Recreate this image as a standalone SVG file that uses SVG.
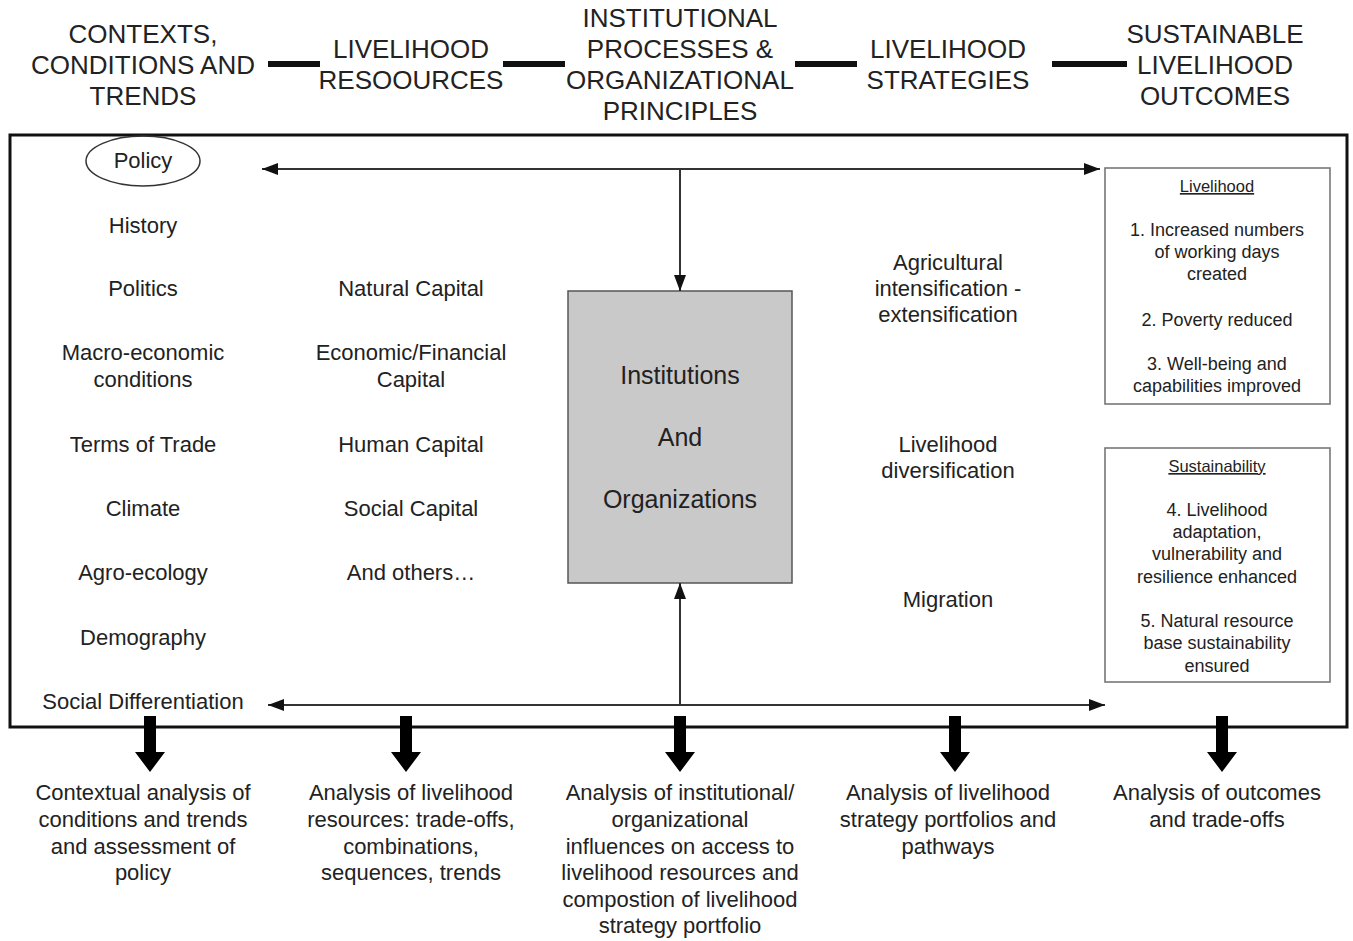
<svg xmlns="http://www.w3.org/2000/svg" width="1353" height="941" viewBox="0 0 1353 941">
  <style>
    text { font-family: "Liberation Sans", Arial, sans-serif; fill: #222; text-anchor: middle; }
    .hdr { font-size: 26px; }
    .body { font-size: 22px; }
    .big { font-size: 25px; }
    .small { font-size: 18px; }
    .ttl { font-size: 16.5px; text-decoration: underline; }
    .bar { stroke: #111; stroke-width: 6; }
    .flow { stroke: #333; stroke-width: 2; fill: none; }
    .outbox { fill: #fff; stroke: #777; stroke-width: 1.6; }
    .down { fill: #000; }
  </style>
  <defs>
    <marker id="tip" viewBox="0 0 16 12" refX="16" refY="6" markerWidth="16" markerHeight="12" markerUnits="userSpaceOnUse" orient="auto-start-reverse">
      <path d="M0,0 L16,6 L0,12 Z" fill="#111"/>
    </marker>
  </defs>
  <rect width="1353" height="941" fill="#fff"/>

  <!-- header row -->
  <g id="header">
    <g id="h-contexts">
      <text class="hdr" x="143" y="43">CONTEXTS,</text>
      <text class="hdr" x="143" y="74">CONDITIONS AND</text>
      <text class="hdr" x="143" y="105">TRENDS</text>
    </g>
    <g id="h-resources">
      <text class="hdr" x="411" y="58">LIVELIHOOD</text>
      <text class="hdr" x="411" y="89">RESOOURCES</text>
    </g>
    <g id="h-institutional">
      <text class="hdr" x="680" y="27">INSTITUTIONAL</text>
      <text class="hdr" x="680" y="58">PROCESSES &amp;</text>
      <text class="hdr" x="680" y="89">ORGANIZATIONAL</text>
      <text class="hdr" x="680" y="120">PRINCIPLES</text>
    </g>
    <g id="h-strategies">
      <text class="hdr" x="948" y="58">LIVELIHOOD</text>
      <text class="hdr" x="948" y="89">STRATEGIES</text>
    </g>
    <g id="h-outcomes">
      <text class="hdr" x="1215" y="43">SUSTAINABLE</text>
      <text class="hdr" x="1215" y="74">LIVELIHOOD</text>
      <text class="hdr" x="1215" y="105">OUTCOMES</text>
    </g>
  </g>

  <!-- main frame -->
  <rect id="frame" x="10" y="135" width="1337" height="592" fill="none" stroke="#111" stroke-width="3"/>

  <g id="contexts">
    <ellipse cx="143" cy="161" rx="57" ry="25" fill="none" stroke="#333" stroke-width="1.5"/>
    <text class="body" x="143" y="168">Policy</text>
    <text class="body" x="143" y="233">History</text>
    <text class="body" x="143" y="296">Politics</text>
    <text class="body" x="143" y="360">Macro-economic</text>
    <text class="body" x="143" y="387">conditions</text>
    <text class="body" x="143" y="452">Terms of Trade</text>
    <text class="body" x="143" y="516">Climate</text>
    <text class="body" x="143" y="580">Agro-ecology</text>
    <text class="body" x="143" y="645">Demography</text>
    <text class="body" x="143" y="709">Social Differentiation</text>
  </g>

  <g id="resources">
    <text class="body" x="411" y="296">Natural Capital</text>
    <text class="body" x="411" y="360">Economic/Financial</text>
    <text class="body" x="411" y="387">Capital</text>
    <text class="body" x="411" y="452">Human Capital</text>
    <text class="body" x="411" y="516">Social Capital</text>
    <text class="body" x="411" y="580">And others…</text>
  </g>

  <g id="institutions">
    <rect x="568" y="291" width="224" height="292" fill="#c9c9c9" stroke="#555" stroke-width="1.5"/>
    <text class="big" x="680" y="384">Institutions</text>
    <text class="big" x="680" y="446">And</text>
    <text class="big" x="680" y="508">Organizations</text>
  </g>

  <g id="strategies">
    <text class="body" x="948" y="270">Agricultural</text>
    <text class="body" x="948" y="296">intensification -</text>
    <text class="body" x="948" y="322">extensification</text>
    <text class="body" x="948" y="452">Livelihood</text>
    <text class="body" x="948" y="478">diversification</text>
    <text class="body" x="948" y="607">Migration</text>
  </g>

  <g id="outcome-livelihood">
    <rect class="outbox" x="1105" y="168" width="225" height="236"/>
    <text class="ttl" x="1217" y="192">Livelihood</text>
    <text class="small" x="1217" y="236">1. Increased numbers</text>
    <text class="small" x="1217" y="258">of working days</text>
    <text class="small" x="1217" y="280">created</text>
    <text class="small" x="1217" y="326">2. Poverty reduced</text>
    <text class="small" x="1217" y="370">3. Well-being and</text>
    <text class="small" x="1217" y="392">capabilities improved</text>
  </g>

  <g id="outcome-sustainability">
    <rect class="outbox" x="1105" y="448" width="225" height="234"/>
    <text class="ttl" x="1217" y="472">Sustainability</text>
    <text class="small" x="1217" y="516">4. Livelihood</text>
    <text class="small" x="1217" y="538">adaptation,</text>
    <text class="small" x="1217" y="560">vulnerability and</text>
    <text class="small" x="1217" y="583">resilience enhanced</text>
    <text class="small" x="1217" y="627">5. Natural resource</text>
    <text class="small" x="1217" y="649">base sustainability</text>
    <text class="small" x="1217" y="672">ensured</text>
  </g>

  <!-- connectors -->
  <g id="connectors">
    <line class="bar" x1="268" y1="64" x2="320" y2="64"/>
    <line class="bar" x1="503" y1="64" x2="565" y2="64"/>
    <line class="bar" x1="795" y1="64" x2="857" y2="64"/>
    <line class="bar" x1="1052" y1="64" x2="1127" y2="64"/>

    <line class="flow" x1="262" y1="169" x2="1100" y2="169" marker-start="url(#tip)" marker-end="url(#tip)"/>
    <line class="flow" x1="680" y1="169" x2="680" y2="291" marker-end="url(#tip)"/>
    <line class="flow" x1="268" y1="705" x2="1105" y2="705" marker-start="url(#tip)" marker-end="url(#tip)"/>
    <line class="flow" x1="680" y1="705" x2="680" y2="583" marker-end="url(#tip)"/>

    <path class="down" d="M144,716 h12 v36 h9 l-15,20 l-15,-20 h9 Z"/>
    <path class="down" d="M400,716 h12 v36 h9 l-15,20 l-15,-20 h9 Z"/>
    <path class="down" d="M674,716 h12 v36 h9 l-15,20 l-15,-20 h9 Z"/>
    <path class="down" d="M949,716 h12 v36 h9 l-15,20 l-15,-20 h9 Z"/>
    <path class="down" d="M1216,716 h12 v36 h9 l-15,20 l-15,-20 h9 Z"/>
  </g>

  <!-- analysis notes -->
  <g id="analysis-context">
    <text class="body" x="143" y="800">Contextual analysis of</text>
    <text class="body" x="143" y="827">conditions and trends</text>
    <text class="body" x="143" y="854">and assessment of</text>
    <text class="body" x="143" y="880">policy</text>
  </g>
  <g id="analysis-resources">
    <text class="body" x="411" y="800">Analysis of livelihood</text>
    <text class="body" x="411" y="827">resources: trade-offs,</text>
    <text class="body" x="411" y="854">combinations,</text>
    <text class="body" x="411" y="880">sequences, trends</text>
  </g>
  <g id="analysis-institutions">
    <text class="body" x="680" y="800">Analysis of institutional/</text>
    <text class="body" x="680" y="827">organizational</text>
    <text class="body" x="680" y="854">influences on access to</text>
    <text class="body" x="680" y="880">livelihood resources and</text>
    <text class="body" x="680" y="907">compostion of livelihood</text>
    <text class="body" x="680" y="933">strategy portfolio</text>
  </g>
  <g id="analysis-strategies">
    <text class="body" x="948" y="800">Analysis of livelihood</text>
    <text class="body" x="948" y="827">strategy portfolios and</text>
    <text class="body" x="948" y="854">pathways</text>
  </g>
  <g id="analysis-outcomes">
    <text class="body" x="1217" y="800">Analysis of outcomes</text>
    <text class="body" x="1217" y="827">and trade-offs</text>
  </g>
</svg>
